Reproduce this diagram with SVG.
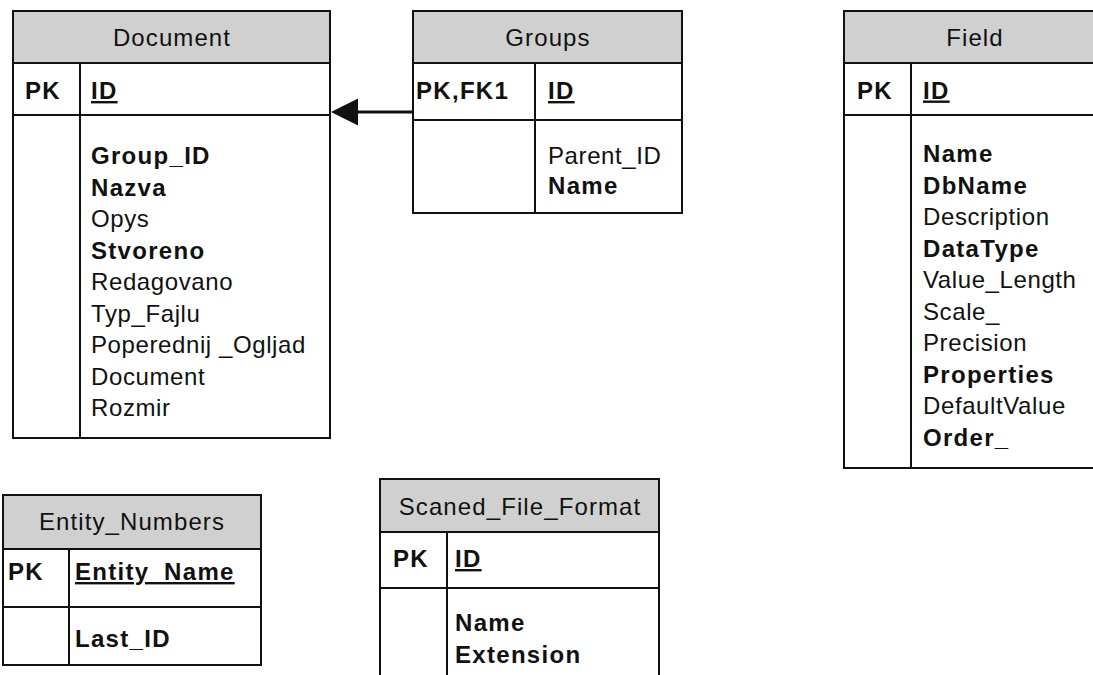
<svg xmlns="http://www.w3.org/2000/svg" width="1093" height="675" viewBox="0 0 1093 675">
<style>
.box{fill:#ffffff;stroke:#111;stroke-width:2}
.hdr{fill:#d0d0d0;stroke:#111;stroke-width:2}
.ln{stroke:#111;stroke-width:2;fill:none}
text{font-family:"Liberation Sans",Arial,sans-serif;font-size:24px;fill:#111}
.r{letter-spacing:0.6px}
.h{letter-spacing:1.1px;text-anchor:middle}
.b{font-weight:bold;letter-spacing:1.3px}
.u{text-decoration:underline}
</style>
<rect width="1093" height="675" fill="#ffffff"/>
<g id="connectors">
<line x1="412" y1="112" x2="356" y2="112" stroke="#111" stroke-width="3"/>
<polygon points="331,112 358,98.5 358,125.5" fill="#111"/>
</g>
<g id="Document">
<rect class="box" x="13" y="11" width="317" height="427"/>
<rect class="hdr" x="13" y="11" width="317" height="52"/>
<line class="ln" x1="13" y1="115" x2="330" y2="115"/>
<line class="ln" x1="80" y1="63" x2="80" y2="438"/>
<text class="h" x="172" y="46">Document</text>
<text class="b" x="25" y="99">PK</text>
<text class="b u" x="91" y="99">ID</text>
<text class="b" x="91" y="164">Group_ID</text>
<text class="b" x="91" y="195.5">Nazva</text>
<text class="r" x="91" y="227">Opys</text>
<text class="b" x="91" y="258.5">Stvoreno</text>
<text class="r" x="91" y="290">Redagovano</text>
<text class="r" x="91" y="321.5">Typ_Fajlu</text>
<text class="r" x="91" y="353">Poperednij _Ogljad</text>
<text class="r" x="91" y="384.5">Document</text>
<text class="r" x="91" y="416">Rozmir</text>
</g>
<g id="Groups">
<rect class="box" x="413" y="11" width="269" height="202"/>
<rect class="hdr" x="413" y="11" width="269" height="52"/>
<line class="ln" x1="413" y1="120" x2="682" y2="120"/>
<line class="ln" x1="535" y1="63" x2="535" y2="213"/>
<text class="h" x="548" y="46">Groups</text>
<text class="b" x="416" y="99">PK,FK1</text>
<text class="b u" x="548" y="99">ID</text>
<text class="r" x="548" y="164">Parent_ID</text>
<text class="b" x="548" y="194">Name</text>
</g>
<g id="Field">
<rect class="box" x="844" y="11" width="262" height="457"/>
<rect class="hdr" x="844" y="11" width="262" height="52"/>
<line class="ln" x1="844" y1="115" x2="1106" y2="115"/>
<line class="ln" x1="911" y1="63" x2="911" y2="468"/>
<text class="h" x="975" y="46">Field</text>
<text class="b" x="857" y="98.5">PK</text>
<text class="b u" x="923" y="98.5">ID</text>
<text class="b" x="923" y="162">Name</text>
<text class="b" x="923" y="193.5">DbName</text>
<text class="r" x="923" y="225">Description</text>
<text class="b" x="923" y="256.5">DataType</text>
<text class="r" x="923" y="288">Value_Length</text>
<text class="r" x="923" y="319.5">Scale_</text>
<text class="r" x="923" y="351">Precision</text>
<text class="b" x="923" y="382.5">Properties</text>
<text class="r" x="923" y="414">DefaultValue</text>
<text class="b" x="923" y="445.5">Order_</text>
</g>
<g id="Entity_Numbers">
<rect class="box" x="3" y="495" width="258" height="170"/>
<rect class="hdr" x="3" y="495" width="258" height="54"/>
<line class="ln" x1="3" y1="607" x2="261" y2="607"/>
<line class="ln" x1="69" y1="549" x2="69" y2="665"/>
<text class="h" x="132" y="530">Entity_Numbers</text>
<text class="b" x="8" y="580">PK</text>
<text class="b u" x="75" y="580">Entity_Name</text>
<text class="b" x="75" y="646.5">Last_ID</text>
</g>
<g id="Scaned_File_Format">
<rect class="box" x="380" y="479" width="279" height="210"/>
<rect class="hdr" x="380" y="479" width="279" height="53"/>
<line class="ln" x1="380" y1="588" x2="659" y2="588"/>
<line class="ln" x1="447" y1="532" x2="447" y2="689"/>
<text class="h" x="520" y="515">Scaned_File_Format</text>
<text class="b" x="393" y="567">PK</text>
<text class="b u" x="455" y="567">ID</text>
<text class="b" x="455" y="631">Name</text>
<text class="b" x="455" y="662.5">Extension</text>
</g>
</svg>
